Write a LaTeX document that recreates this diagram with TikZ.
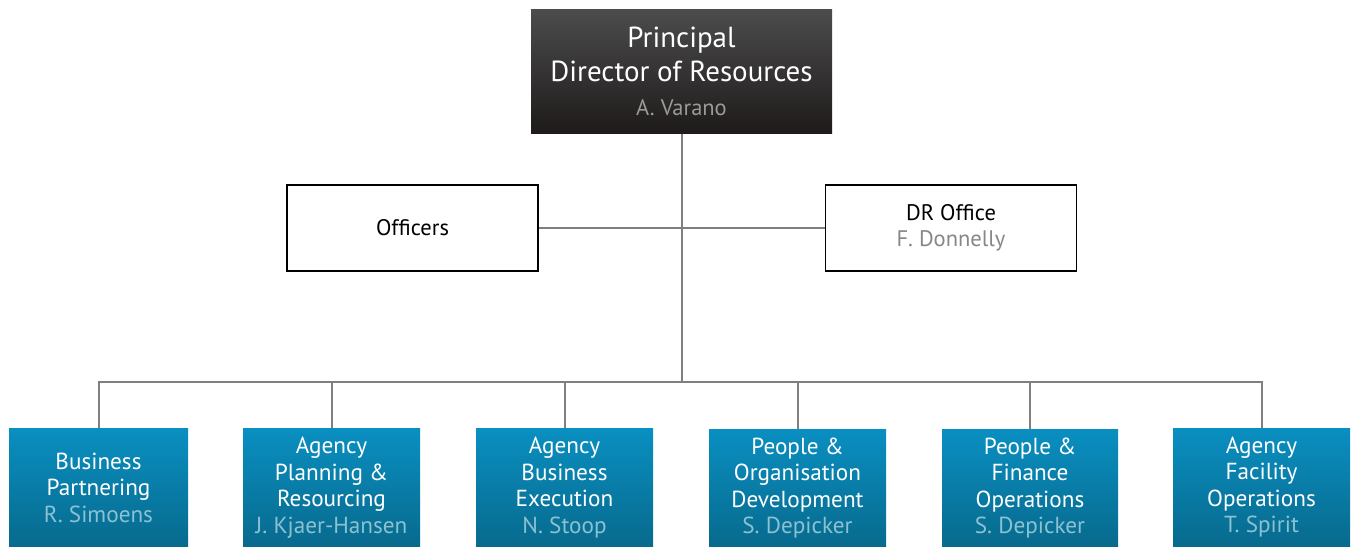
\documentclass[tikz,border=0pt]{standalone}
\usepackage{fontspec}
\setmainfont{PT Sans}
\definecolor{lineg}{HTML}{7F7F7F}
\definecolor{darktop}{HTML}{4C4C4C}
\definecolor{darkbot}{HTML}{1E1A1A}
\definecolor{bluetop}{HTML}{098FC1}
\definecolor{bluebot}{HTML}{086A8D}
\definecolor{bluename}{HTML}{8CC1D2}
\definecolor{grayname}{HTML}{9A9A9A}
\definecolor{grayname2}{HTML}{878787}
\tikzset{
  topbox/.style={rectangle, top color=darktop, bottom color=darkbot, draw=none,
    minimum width=301pt, minimum height=124pt, inner sep=0pt, align=center,
    text=white, font=\fontsize{29}{34}\selectfont},
  sidebox/.style={rectangle, draw=black, line width=1.5pt, fill=white,
    minimum width=251pt, minimum height=86pt, inner sep=0pt, align=center,
    font=\fontsize{22.5}{26}\selectfont},
  unitbox/.style={rectangle, top color=bluetop, bottom color=bluebot, draw=none,
    minimum width=177pt, minimum height=118pt, inner sep=0pt, align=center,
    text=white, font=\fontsize{23.2}{26.5}\selectfont},
  conn/.style={draw=lineg, line width=2pt}
}
\begin{document}
\begin{tikzpicture}[x=1pt,y=-1pt]
\useasboundingbox (0,0) rectangle (1351,546);
\node[topbox] (top) at (681.5,71.5) {Principal\\Director of Resources\\{\fontsize{22.5}{31}\selectfont\color{grayname}A. Varano}};
\node[sidebox] (off) at (412.5,228) {Officers};
\node[sidebox] (dro) at (951,228) {DR Office\\{\color{grayname2}F. Donnelly}};
\node[unitbox, minimum width=179pt] (b1) at (98.5,487.5) {Business\\Partnering\\{\color{bluename}R. Simoens}};
\node[unitbox] (b2) at (331.5,487.5) {Agency\\Planning \&\\Resourcing\\{\color{bluename}J. Kjaer-Hansen}};
\node[unitbox] (b3) at (564.5,487.5) {Agency\\Business\\Execution\\{\color{bluename}N. Stoop}};
\node[unitbox] (b4) at (797.5,488) {People \&\\Organisation\\Development\\{\color{bluename}S. Depicker}};
\node[unitbox, minimum width=176pt] (b5) at (1030,488) {People \&\\Finance\\Operations\\{\color{bluename}S. Depicker}};
\node[unitbox] (b6) at (1261.5,487) {Agency\\Facility\\Operations\\{\color{bluename}T. Spirit}};
\coordinate (bus) at (681.5,382);
\path[conn] (top.south) -- (bus);
\path[conn] (off.east) -- (dro.west);
\path[conn] (b1.north) |- (b6.north |- bus) -- (b6.north);
\foreach \b in {b2,b3,b4,b5} { \path[conn] (\b.north) -- (\b.north |- bus); }
\end{tikzpicture}
\end{document}
